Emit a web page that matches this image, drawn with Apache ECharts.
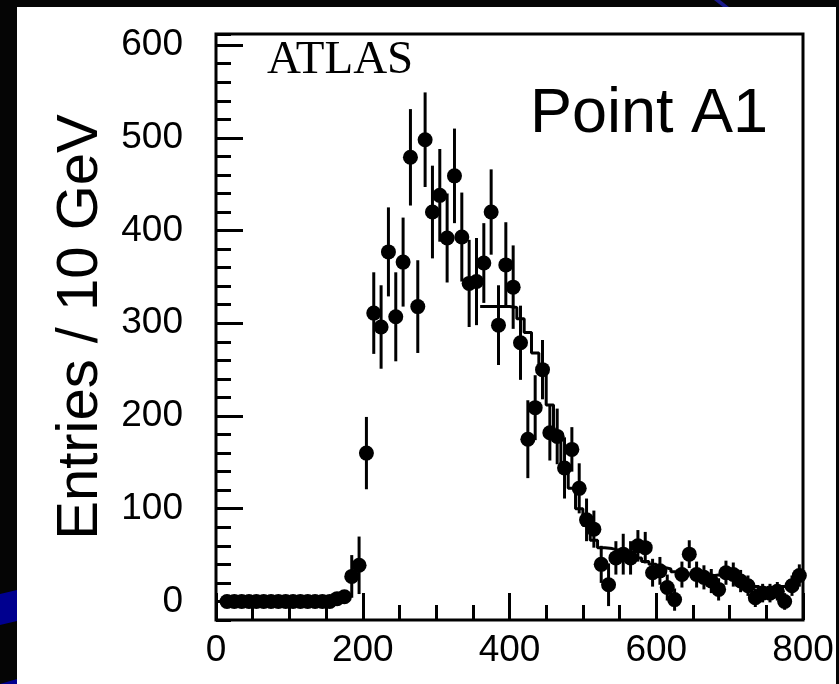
<!DOCTYPE html>
<html><head><meta charset="utf-8">
<script src="https://cdn.jsdelivr.net/npm/echarts@6/dist/echarts.min.js"></script>
<style>html,body{margin:0;padding:0;background:#050505;}#c{width:839px;height:684px;}</style>
</head><body><div id="c"></div>
<script>
// bin centres (GeV), 10 GeV bins
const massBins = [15,25,35,45,55,65,75,85,95,105,115,125,135,145,155,165,175,185,195,205,215,225,235,245,255,265,275,285,295,305,315,325,335,345,355,365,375,385,395,405,415,425,435,445,455,465,475,485,495,505,515,525,535,545,555,565,575,585,595,605,615,625,635,645,655,665,675,685,695,705,715,725,735,745,755,765,775,785,795];
const entries = [0,0,0,0,0,0,0,0,0,0,0,0,0,0,0,3,5,27,39,160,311,296,377,307,366,479,318,498,420,438,392,459,393,343,345,365,420,298,363,339,279,175,209,250,182,178,144,164,122,88,78,40,18,47,51,47,60,58,31,33,15,2,29,51,29,26,22,13,31,29,22,17,4,9,9,11,0,17,28];
const entryErrors = [0,0,0,0,0,0,0,0,0,0,0,0,0,0,0,4,6,23,31,39,44,45,48,48,48,52,50,51,50,50,48,51,48,47,47,43,46,43,46,45,40,42,35,32,30,30,33,24,27,23,20,20,23,18,22,18,17,17,15,15,14,12,14,15,14,13,13,12,13,13,12,11,10,10,10,10,9,11,12];
// expectation histogram (bin centres and contents)
const mcBins = [365,375,385,395,405,415,425,435,445,455,465,475,485,495,505,515,525,535,545,555,565,575,585,595,605,615,625,635,645,655,665,675,685,695,705,715,725,735,745,755,765,775,785,795];
const mcValues = [318,318,318,318,317,305,290,268,245,212,180,148,122,100,82,66,58,57,55,52,50,47,43,40,37,35,32,30,29,27,27,28,29,31,30,26,22,16,12,12,13,16,22,27];
const yTickValues = [0,100,200,300,400,500,600];
const yTitle = 'Entries / 10 GeV';
const labelA = 'ATLAS';
const labelB = 'Point A1';

const pointData = massBins.map((x, i) => [x, entries[i]]);
const errData = massBins.map((x, i) => [x, entries[i] - entryErrors[i], entries[i] + entryErrors[i]]).filter((d, i) => entryErrors[i] > 0);
const half = 5;
const mcData = mcBins.map((x, i) => [x - half, mcValues[i]]);
mcData.push([mcBins[mcBins.length - 1] + half, mcValues[mcValues.length - 1]]);

const lblFont = {fontFamily: 'Liberation Sans', fontSize: 37, color: '#000'};
const noLine = {show: false, onZero: false};
const chart = echarts.init(document.getElementById('c'), null, {renderer: 'canvas'});
chart.setOption({
  backgroundColor: 'transparent',
  animation: false,
  graphic: [
    {type: 'rect', z: -10, shape: {x: 17, y: 7, width: 819, height: 677}, style: {fill: '#ffffff'}},
    {type: 'polygon', z: -10, shape: {points: [[0, 594], [17, 590], [17, 621], [0, 625]]}, style: {fill: '#00008f'}},
    {type: 'polygon', z: -10, shape: {points: [[0, 684], [17, 679], [17, 684]]}, style: {fill: '#00008f'}},
    {type: 'polygon', z: -10, shape: {points: [[714, 0], [720, 0], [729, 7], [723, 7]]}, style: {fill: '#1a1a8a'}},
    {type: 'text', z: 10, x: 267, y: 61, style: {text: labelA, font: '47px "Liberation Serif"', fill: '#000', verticalAlign: 'middle'}},
    {type: 'text', z: 10, x: 530, y: 115, style: {text: labelB, font: '63px "Liberation Sans"', fill: '#000', verticalAlign: 'middle'}}
  ],
  grid: {left: 216, right: 36, top: 34, bottom: 64, show: true, borderColor: '#000', borderWidth: 3, backgroundColor: '#fff'},
  xAxis: [
    {type: 'value', position: 'bottom', min: 0, max: 800, interval: 200,
     axisLine: noLine, splitLine: {show: false},
     axisTick: {show: true, inside: true, length: 27, lineStyle: {color: '#000', width: 3}},
     axisLabel: Object.assign({margin: 12}, lblFont)},
    {type: 'value', position: 'bottom', min: 0, max: 800, interval: 50,
     axisLine: noLine, splitLine: {show: false}, axisLabel: {show: false},
     axisTick: {show: true, inside: true, length: 15, lineStyle: {color: '#000', width: 3}}}
  ],
  yAxis: [
    {type: 'value', position: 'left', min: -20, max: 612,
     axisLine: noLine, splitLine: {show: false},
     axisTick: {show: true, inside: true, length: 27, customValues: yTickValues, lineStyle: {color: '#000', width: 3}},
     axisLabel: Object.assign({margin: 33, customValues: yTickValues}, lblFont),
     name: yTitle, nameLocation: 'middle', nameRotate: 90, nameGap: 100,
     nameTextStyle: {fontFamily: 'Liberation Sans', fontSize: 58, color: '#000'}},
    {type: 'value', position: 'left', min: -20, max: 612, interval: 20,
     axisLine: noLine, splitLine: {show: false}, axisLabel: {show: false},
     axisTick: {show: true, inside: true, length: 15, lineStyle: {color: '#000', width: 3}}}
  ],
  series: [
    {type: 'line', xAxisIndex: 0, yAxisIndex: 0, data: mcData, step: 'end', showSymbol: false, symbol: 'none',
     lineStyle: {color: '#000', width: 3}, z: 3},
    {type: 'custom', xAxisIndex: 0, yAxisIndex: 0, data: errData, encode: {x: 0, y: [1, 2]}, z: 4,
     renderItem: function (params, api) {
       const x = api.value(0);
       const lo = api.coord([x, api.value(1)]);
       const hi = api.coord([x, api.value(2)]);
       return {type: 'line', shape: {x1: lo[0], y1: lo[1], x2: hi[0], y2: hi[1]}, style: {stroke: '#000', lineWidth: 3}};
     }},
    {type: 'scatter', xAxisIndex: 0, yAxisIndex: 0, data: pointData, symbol: 'circle', symbolSize: 15,
     itemStyle: {color: '#000', opacity: 1}, z: 5}
  ]
});
</script></body></html>
